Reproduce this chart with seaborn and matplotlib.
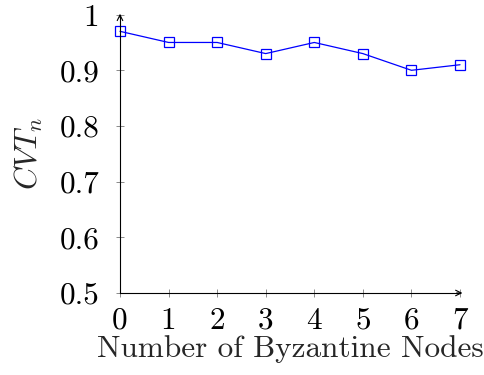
import matplotlib
matplotlib.use('Agg')
import matplotlib.pyplot as plt
import seaborn as sns
import pandas as pd

# values
byzantine_nodes = [0, 1, 2, 3, 4, 5, 6, 7]
cvt_n = [0.97, 0.95, 0.95, 0.93, 0.95, 0.93, 0.90, 0.91]
x_ticks = [0, 1, 2, 3, 4, 5, 6, 7]
y_ticks = [0.5, 0.6, 0.7, 0.8, 0.9, 1.0]
y_tick_labels = ['0.5', '0.6', '0.7', '0.8', '0.9', '1']

sns.set_style('ticks')
plt.rcParams['font.family'] = ['cmr10', 'DejaVu Serif']
plt.rcParams['mathtext.fontset'] = 'cm'
plt.rcParams['axes.unicode_minus'] = False

data = pd.DataFrame({'nodes': byzantine_nodes, 'cvt': cvt_n})

fig = plt.figure(figsize=(4.85, 3.75), dpi=100)
ax = fig.add_axes([0.2474, 0.2187, 0.9485 - 0.2474, 0.961 - 0.2187])

sns.lineplot(data=data, x='nodes', y='cvt', ax=ax, color='blue', linewidth=0.9,
             marker='s', markersize=7, markerfacecolor='none',
             markeredgecolor='blue', markeredgewidth=0.9, clip_on=False)

ax.set_xlim(0, 7)
ax.set_ylim(0.5, 1.0)
ax.set_xticks(x_ticks)
ax.set_xticklabels([str(v) for v in x_ticks])
ax.set_yticks(y_ticks)
ax.set_yticklabels(y_tick_labels)

for side in ['top', 'right']:
    ax.spines[side].set_visible(False)
for side in ['left', 'bottom']:
    ax.spines[side].set_linewidth(0.8)
    ax.spines[side].set_color('black')

ax.tick_params(axis='both', direction='inout', length=6, width=0.6,
               color='#777777', labelsize=22.5, labelcolor='black')
ax.tick_params(axis='x', pad=7)
ax.tick_params(axis='y', pad=12)

ax.set_xlabel('Number of Byzantine Nodes', fontsize=22.5, labelpad=0)
ax.set_ylabel(r'$CVT_n$', fontsize=22.5, labelpad=10)

# axis arrows like pgfplots "axis lines=left"
ax.annotate('', xy=(1.007, 0), xytext=(0.99, 0), xycoords='axes fraction',
            arrowprops=dict(arrowstyle='->', lw=0.8, color='black',
                            shrinkA=0, shrinkB=0))
ax.annotate('', xy=(0, 1.003), xytext=(0, 0.99), xycoords='axes fraction',
            arrowprops=dict(arrowstyle='->', lw=0.8, color='black',
                            shrinkA=0, shrinkB=0))

fig.savefig('out.png', dpi=100)
